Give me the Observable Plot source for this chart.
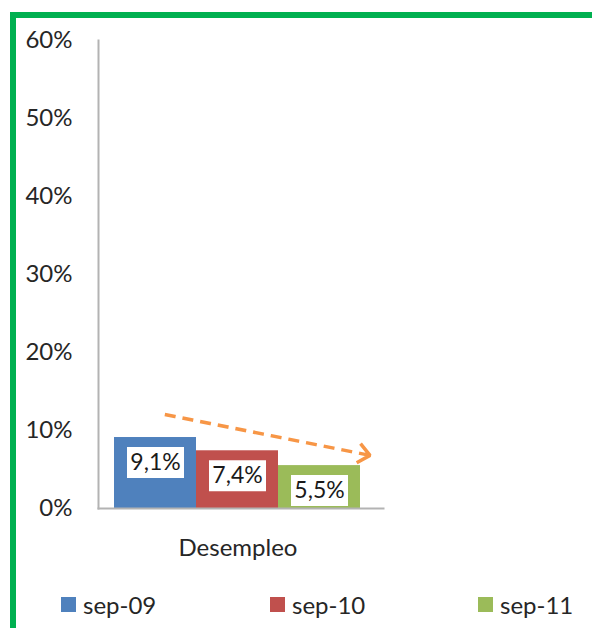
<!DOCTYPE html>
<html>
<head>
<meta charset="utf-8">
<script src="https://cdn.jsdelivr.net/npm/d3@7"></script>
<script src="https://cdn.jsdelivr.net/npm/@observablehq/plot@0.6"></script>
<style>
  html, body { margin: 0; padding: 0; background: #fff; }
  #wrap { position: relative; width: 592px; height: 628px; overflow: hidden; background: #fff; font-family: Lato, "Open Sans", sans-serif; }
  .border-top { position: absolute; left: 10px; top: 12px; width: 582px; height: 6px; background: #00B050; }
  .border-left { position: absolute; left: 10px; top: 12px; width: 6px; height: 616px; background: #00B050; }
  #chart { position: absolute; left: 0; top: 0; }
  #legend { position: absolute; left: 0; top: 590px; width: 592px; height: 30px; }
  .item { position: absolute; top: 0; display: flex; align-items: center; font-size: 24px; color: #262626; }
  .sw { width: 15px; height: 15px; margin-right: 7px; }
</style>
</head>
<body>
<div id="wrap">
  <div id="chart"></div>
  <div id="legend"></div>
  <div class="border-top"></div>
  <div class="border-left"></div>
</div>
<script>
const category = "Desempleo";
const series = ["sep-09", "sep-10", "sep-11"];
const values = [0.091, 0.074, 0.055];
const labels = ["9,1%", "7,4%", "5,5%"];
const colors = ["#4F81BD", "#C0504D", "#9BBB59"];
const yTicks = [0, 0.1, 0.2, 0.3, 0.4, 0.5, 0.6];
const trend = [{from: "sep-09", to: "sep-11", y1: 0.123, y2: 0.081}];

const data = series.map((s, i) => ({series: s, value: values[i], label: labels[i]}));

const boxSymbol = { draw(ctx) { ctx.rect(-28.5, -15.5, 57, 31); } };

const plot = Plot.plot({
  width: 592,
  height: 560,
  marginLeft: 98,
  marginRight: 209,
  marginTop: 40,
  marginBottom: 52,
  style: { fontFamily: "Lato, 'Open Sans', sans-serif", background: "transparent" },
  x: { domain: series, padding: 0, insetLeft: 15, insetRight: 22, axis: null },
  y: { domain: [0, 0.6] },
  color: { domain: series, range: colors },
  marks: [
    Plot.barY(data, { x: "series", y: "value", fill: "series" }),
    Plot.frame({ anchor: "left", stroke: "#b3b3b3", strokeWidth: 2 }),
    Plot.frame({ anchor: "bottom", stroke: "#b3b3b3", strokeWidth: 2 }),
    Plot.axisY(yTicks, {
      tickSize: 0, tickPadding: 26, label: null,
      tickFormat: d => Math.round(d * 100) + "%",
      fontSize: 24, fill: "#262626"
    }),
    Plot.dot(data, { x: "series", y: "value", dy: 25, symbol: boxSymbol, fill: "white", stroke: "none" }),
    Plot.text(data, { x: "series", y: "value", dy: 25, text: "label", fontSize: 23, fill: "#1a1a1a" }),
    Plot.arrow(trend, {
      x1: "from", y1: "y1", x2: "to", y2: "y2",
      stroke: "#F79646", strokeWidth: 3.5, strokeLinecap: "butt",
      insetStart: 9.5, insetEnd: -51.5,
      headLength: 6.5, headAngle: 80
    }),
    Plot.arrow(trend, {
      x1: "from", y1: "y1", x2: "to", y2: "y2",
      stroke: "white", strokeWidth: 6, strokeLinecap: "butt",
      insetStart: 9.5, insetEnd: -44,
      headLength: 0, strokeDasharray: "0,11,7,0"
    }),
    Plot.text([category], { frameAnchor: "bottom", dy: 47, dx: -3, fontSize: 24, fill: "#262626" })
  ]
});
document.getElementById("chart").appendChild(plot);

const legend = document.getElementById("legend");
const lx = [61, 270, 478];
series.forEach((s, i) => {
  const it = document.createElement("div");
  it.className = "item";
  it.style.left = lx[i] + "px";
  it.innerHTML = `<span class="sw" style="background:${colors[i]}"></span><span>${s}</span>`;
  legend.appendChild(it);
});
</script>
</body>
</html>
